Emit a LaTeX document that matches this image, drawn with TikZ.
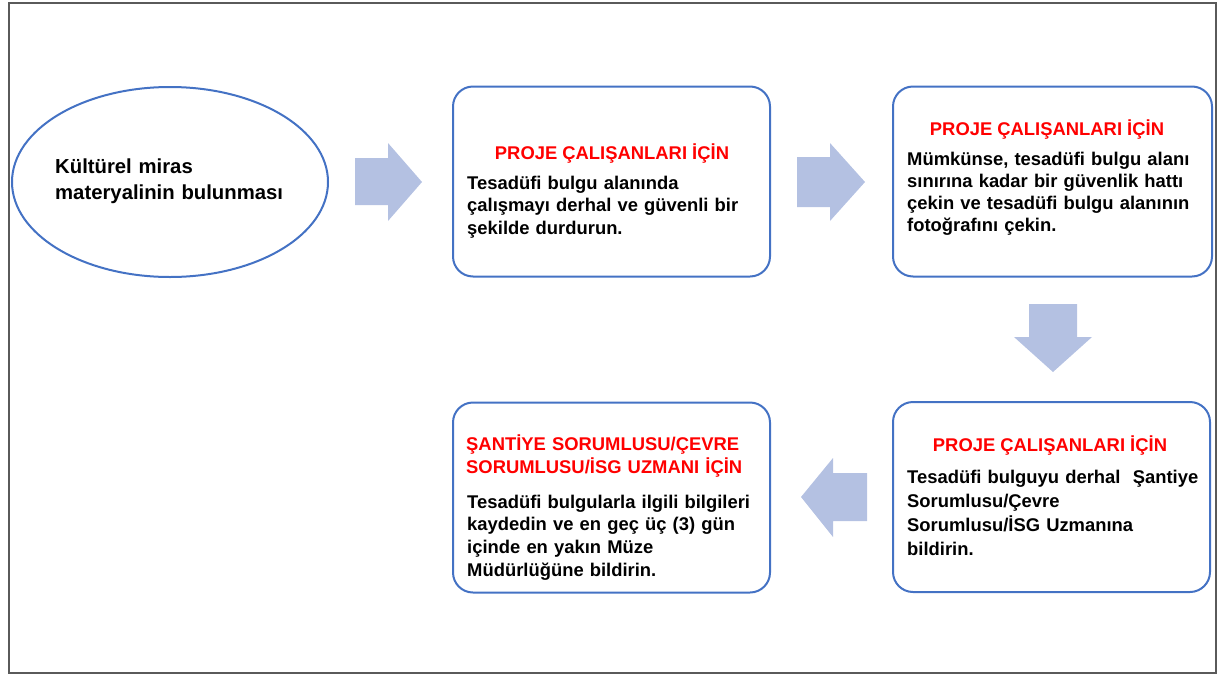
\documentclass[tikz,border=0pt]{standalone}
\usepackage{fontspec}
\setmainfont{Liberation Sans}
\usetikzlibrary{shapes.geometric}
\definecolor{boxblue}{RGB}{68,114,196}
\definecolor{arrowblue}{RGB}{180,193,226}
\definecolor{headred}{RGB}{255,0,0}
\definecolor{framegray}{RGB}{90,90,90}
\tikzset{
  stepbox/.style={draw=boxblue,line width=2pt,rounded corners=20pt,minimum width=317pt,minimum height=190pt,inner sep=0pt},
  headtext/.style={text=headred,font=\bfseries\fontsize{18.4}{23}\selectfont,inner sep=0pt},
  bodytext/.style={font=\bfseries\fontsize{18.4}{#1}\selectfont,inner sep=0pt,align=left,anchor=base west,text width=320pt},
  blockarrow/.style={fill=arrowblue}
}
\begin{document}
\begin{tikzpicture}[x=1pt,y=-1pt]
    \useasboundingbox (0,0) rectangle (1219,675);
    \draw[framegray,line width=1.3pt] (9,3) rectangle (1216,673);
    % start
    \node[ellipse,draw=boxblue,line width=2pt,minimum width=316pt,minimum height=190pt] (find) at (170,182) {};
    \node[bodytext=26,font=\bfseries\fontsize{20.3}{26}\selectfont] (findtext) at (55,173) {Kültürel miras\\materyalinin bulunması};
    % boxes
    \node[stepbox] (stop) at (611.5,181.5) {};
    \node[stepbox,minimum width=319pt] (photo) at (1052.5,181.5) {};
    \node[stepbox] (report) at (1051.5,497) {};
    \node[stepbox] (record) at (611.5,497.5) {};
    \node[headtext,anchor=base] (stophead) at (612,159) {PROJE ÇALIŞANLARI İÇİN};
    \node[bodytext=22.5] (stoptext) at (467,189) {Tesadüfi bulgu alanında\\çalışmayı derhal ve güvenli bir\\şekilde durdurun.};
    \node[headtext,anchor=base] (photohead) at (1047,135) {PROJE ÇALIŞANLARI İÇİN};
    \node[bodytext=22] (phototext) at (907,165) {Mümkünse, tesadüfi bulgu alanı\\sınırına kadar bir güvenlik hattı\\çekin ve tesadüfi bulgu alanının\\fotoğrafını çekin.};
    \node[headtext,anchor=base] (reporthead) at (1050,451) {PROJE ÇALIŞANLARI İÇİN};
    \node[bodytext=24] (reporttext) at (907,483) {Tesadüfi bulguyu derhal \ Şantiye\\Sorumlusu/Çevre\\Sorumlusu/İSG Uzmanına\\bildirin.};
    \node[headtext,anchor=base west,align=left,text width=320pt] (recordhead) at (466,450) {ŞANTİYE SORUMLUSU/ÇEVRE\\SORUMLUSU/İSG UZMANI İÇİN};
    \node[bodytext=22.8] (recordtext) at (467,508) {Tesadüfi bulgularla ilgili bilgileri\\kaydedin ve en geç üç (3) gün\\içinde en yakın Müze\\Müdürlüğüne bildirin.};
    % block arrows
    \fill[blockarrow] (355,158)--(388,158)--(388,143)--(422,182)--(388,221)--(388,205)--(355,205)--cycle;
    \fill[blockarrow] (797,157)--(830,157)--(830,143)--(865,182)--(830,221)--(830,207)--(797,207)--cycle;
    \fill[blockarrow] (1029,304)--(1077,304)--(1077,337)--(1092,337)--(1053,372)--(1014,337)--(1029,337)--cycle;
    \fill[blockarrow] (867,473)--(833,473)--(833,458)--(801,497)--(833,537)--(833,521)--(867,521)--cycle;
\end{tikzpicture}
\end{document}
